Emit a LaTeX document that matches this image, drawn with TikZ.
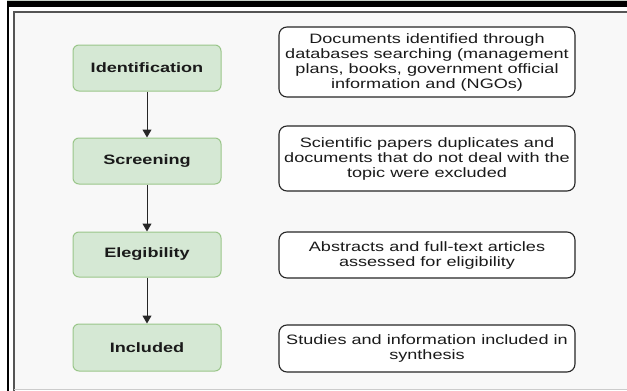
\documentclass[tikz,border=0pt]{standalone}
\usepackage{fontspec}
\setmainfont[FakeStretch=1.33]{Liberation Sans}
\usetikzlibrary{arrows.meta}
\definecolor{stepfill}{HTML}{D5E8D4}
\definecolor{stepline}{HTML}{9AC68A}
\definecolor{bgpanel}{HTML}{F8F8F8}
\definecolor{txt}{HTML}{1A1A1A}
\definecolor{framegrey}{HTML}{555555}
\begin{document}
\begin{tikzpicture}[x=1pt,y=-1pt,
  stepbox/.style={draw=stepline, fill=stepfill, line width=1pt, rounded corners=6pt,
    minimum width=148pt, inner sep=0pt, font=\fontsize{13.6}{15}\selectfont\bfseries, text=txt},
  descbox/.style={draw=black!85, fill=white, line width=1.1pt, rounded corners=8pt,
    minimum width=296pt, inner sep=0pt, align=center, font=\fontsize{13.6}{15}\selectfont, text=txt},
  flow/.style={draw=black!85, line width=1pt, -{Triangle[width=9pt,length=8pt]}}]
\useasboundingbox (0,0) rectangle (627,391);
% panel background and frame
\fill[white] (0,0) rectangle (627,391);
\fill[bgpanel] (14,12) rectangle (627,389);
\fill[black!15!green!10!gray!40] (7,0) rectangle (627,1.2);
\fill[black] (7,1.2) rectangle (627,7.3);
\draw[black, line width=1.6pt] (7.8,7) -- (7.8,391);
\draw[framegrey, line width=1.4pt] (14,391) -- (14,12) -- (627,12);
\draw[black!20, line width=0.8pt] (14,389.5) -- (627,389.5);
% steps
\node[stepbox, minimum height=46pt] (ident) at (147,68) {Identification};
\node[stepbox, minimum height=46pt] (screen) at (147,161) {Screening};
\node[stepbox, minimum height=45pt] (elig) at (147,254.5) {Elegibility};
\node[stepbox, minimum height=47pt] (incl) at (147,347.5) {Included};
% descriptions
\node[descbox, minimum height=70pt] (d1) at (427,62) {Documents identified through\\databases searching (management\\plans, books, government official\\information and (NGOs)};
\node[descbox, minimum height=65pt] (d2) at (427,158.5) {Scientific papers duplicates and\\documents that do not deal with the\\topic were excluded};
\node[descbox, minimum height=46pt] (d3) at (427,255) {Abstracts and full-text articles\\assessed for eligibility};
\node[descbox, minimum height=47pt] (d4) at (427,348.5) {Studies and information included in\\synthesis};
% connectors
\draw[flow] (ident) -- (screen);
\draw[flow] (screen) -- (elig);
\draw[flow] (elig) -- (incl);
\end{tikzpicture}
\end{document}
